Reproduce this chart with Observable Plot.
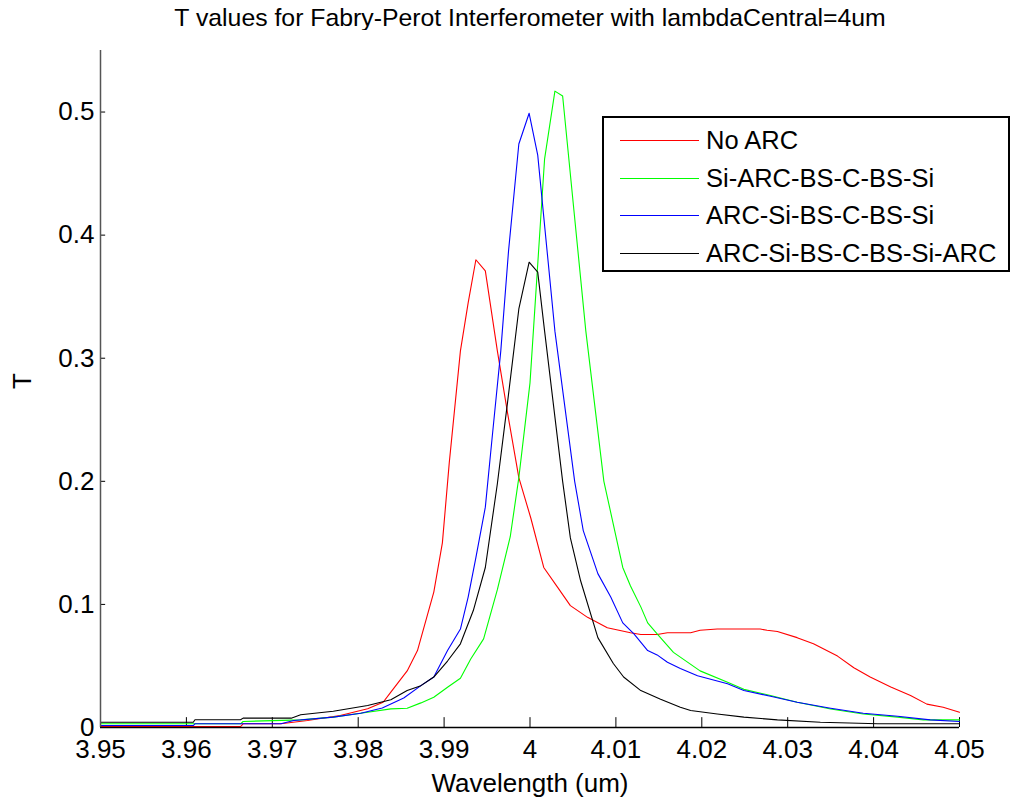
<!DOCTYPE html>
<html>
<head>
<meta charset="utf-8">
<script src="https://cdn.jsdelivr.net/npm/d3@7"></script>
<script src="https://cdn.jsdelivr.net/npm/@observablehq/plot@0.6"></script>
<style>
  html, body { margin: 0; padding: 0; background: #fff; overflow: hidden; }
  #wrap { position: relative; width: 1013px; height: 801px; background: #fff; font-family: "Liberation Sans", Arial, sans-serif; color: #000; }
  #title { position: absolute; top: 4px; left: 30px; width: 1000px; text-align: center; font-size: 24.8px; line-height: 28px; white-space: nowrap; }
  #chart { position: absolute; top: 30px; left: 0; }
  #legend { position: absolute; left: 602px; top: 116px; width: 404px; height: 152px; border: 2px solid #000; background: #fff; }
  .row { position: absolute; left: 0; height: 28px; line-height: 28px; font-size: 25.5px; white-space: nowrap; }
  .swatch { position: absolute; left: 16px; top: 14px; width: 79px; height: 1px; }
  .lab { position: absolute; left: 102px; top: 0; }
</style>
</head>
<body>
<div id="wrap">
  <div id="title">T values for Fabry-Perot Interferometer with lambdaCentral=4um</div>
  <div id="chart"></div>
  <div id="legend"></div>
</div>
<script>
// ---- data ----
const seriesNames = ["No ARC", "Si-ARC-BS-C-BS-Si", "ARC-Si-BS-C-BS-Si", "ARC-Si-BS-C-BS-Si-ARC"];
const seriesColors = ["#ff0000", "#00ff00", "#0000ff", "#000000"];

const xTicks = [3.95, 3.96, 3.97, 3.98, 3.99, 4.00, 4.01, 4.02, 4.03, 4.04, 4.05];
const xTickLabels = ["3.95", "3.96", "3.97", "3.98", "3.99", "4", "4.01", "4.02", "4.03", "4.04", "4.05"];
const yTicks = [0, 0.1, 0.2, 0.3, 0.4, 0.5];
const yTickLabels = ["0", "0.1", "0.2", "0.3", "0.4", "0.5"];
const xTitle = "Wavelength (um)";
const yTitle = "T";

// No ARC (red)
const noArcW = [3.9500, 3.9663, 3.9666, 3.9710, 3.9741, 3.9779, 3.9811, 3.9829, 3.9838, 3.9857, 3.9869, 3.9888, 3.9898, 3.9906, 3.9919, 3.9928, 3.9937, 3.9948, 3.9962, 3.9974, 3.9987, 4.0001, 4.0016, 4.0032, 4.0047, 4.0067, 4.0090, 4.0117, 4.0129, 4.0148, 4.0160, 4.0187, 4.0198, 4.0218, 4.0268, 4.0276, 4.0288, 4.0311, 4.0330, 4.0358, 4.0377, 4.0396, 4.0420, 4.0443, 4.0462, 4.0481, 4.0500];
const noArcT = [0.0008, 0.0008, 0.003, 0.003, 0.0057, 0.0097, 0.0152, 0.0205, 0.0287, 0.046, 0.0625, 0.110, 0.150, 0.215, 0.306, 0.345, 0.380, 0.371, 0.306, 0.255, 0.203, 0.170, 0.130, 0.114, 0.099, 0.0895, 0.081, 0.077, 0.0755, 0.0755, 0.077, 0.077, 0.079, 0.080, 0.080, 0.079, 0.078, 0.073, 0.068, 0.058, 0.0485, 0.041, 0.033, 0.026, 0.019, 0.0165, 0.0124];

// Si-ARC-BS-C-BS-Si (green)
const siArcW = [3.9500, 3.9663, 3.9666, 3.9733, 3.9771, 3.9811, 3.9838, 3.9857, 3.9873, 3.9888, 3.9904, 3.9919, 3.9931, 3.9946, 3.9962, 3.9977, 3.9987, 4.0000, 4.0017, 4.0029, 4.0038, 4.0065, 4.0086, 4.0097, 4.0108, 4.0117, 4.0129, 4.0137, 4.0148, 4.0167, 4.0198, 4.0230, 4.0249, 4.0280, 4.0311, 4.0350, 4.0388, 4.0428, 4.0458, 4.0500];
const siArcT = [0.003, 0.003, 0.0049, 0.0062, 0.0084, 0.0124, 0.0151, 0.0157, 0.020, 0.0246, 0.0327, 0.040, 0.0557, 0.072, 0.112, 0.155, 0.203, 0.280, 0.462, 0.517, 0.513, 0.322, 0.200, 0.165, 0.130, 0.115, 0.098, 0.085, 0.076, 0.061, 0.046, 0.0368, 0.031, 0.026, 0.0205, 0.015, 0.011, 0.0084, 0.0062, 0.0062];

// ARC-Si-BS-C-BS-Si (blue)
const arcSiW = [3.9500, 3.9608, 3.9610, 3.9710, 3.9725, 3.9771, 3.9803, 3.9828, 3.9853, 3.9873, 3.9888, 3.9904, 3.9919, 3.9928, 3.9937, 3.9948, 3.9956, 3.9966, 3.9975, 3.9987, 3.9999, 4.0009, 4.0029, 4.0052, 4.0062, 4.0079, 4.0094, 4.0108, 4.0121, 4.0137, 4.0148, 4.0160, 4.0175, 4.0195, 4.0230, 4.0249, 4.0280, 4.0311, 4.0350, 4.0388, 4.0428, 4.0466, 4.0500];
const arcSiT = [0.0016, 0.0016, 0.003, 0.003, 0.0057, 0.0084, 0.0116, 0.0158, 0.024, 0.034, 0.041, 0.0625, 0.080, 0.106, 0.138, 0.179, 0.236, 0.306, 0.387, 0.474, 0.499, 0.465, 0.322, 0.200, 0.160, 0.125, 0.106, 0.085, 0.076, 0.0625, 0.059, 0.053, 0.048, 0.042, 0.0355, 0.030, 0.0254, 0.0205, 0.0157, 0.0116, 0.0092, 0.0062, 0.0049];

// ARC-Si-BS-C-BS-Si-ARC (black)
const arcBothW = [3.9500, 3.9608, 3.9610, 3.9663, 3.9666, 3.9722, 3.9733, 3.9771, 3.9811, 3.9838, 3.9857, 3.9873, 3.9888, 3.9904, 3.9919, 3.9934, 3.9948, 3.9962, 3.9974, 3.9987, 3.9999, 4.0009, 4.0017, 4.0038, 4.0047, 4.0059, 4.0079, 4.0097, 4.0109, 4.0129, 4.0152, 4.0175, 4.0187, 4.0218, 4.0249, 4.0288, 4.0338, 4.0405, 4.0500];
const arcBothT = [0.0043, 0.0043, 0.0063, 0.0063, 0.0076, 0.0076, 0.0103, 0.0132, 0.0179, 0.0225, 0.030, 0.034, 0.041, 0.054, 0.068, 0.095, 0.130, 0.198, 0.265, 0.340, 0.378, 0.370, 0.322, 0.200, 0.154, 0.119, 0.073, 0.052, 0.041, 0.030, 0.023, 0.0165, 0.0138, 0.011, 0.0084, 0.0062, 0.0043, 0.003, 0.003];

// ---- build table ----
const seriesW = [noArcW, siArcW, arcSiW, arcBothW];
const seriesT = [noArcT, siArcT, arcSiT, arcBothT];
const rows = [];
seriesNames.forEach((name, k) => {
  seriesW[k].forEach((w, i) => rows.push({series: name, w, t: seriesT[k][i]}));
});

const xLabelMap = new Map(xTicks.map((v, i) => [v, xTickLabels[i]]));
const yLabelMap = new Map(yTicks.map((v, i) => [v, yTickLabels[i]]));

const chart = Plot.plot({
  width: 1013,
  height: 771,
  marginLeft: 100,
  marginRight: 54,
  marginTop: 20,
  marginBottom: 74,
  x: {domain: [3.95, 4.05]},
  y: {domain: [0, 0.55]},
  color: {domain: seriesNames, range: seriesColors},
  style: {fontFamily: "'Liberation Sans', Arial, sans-serif", fontSize: "26px", background: "#fff", color: "#000", overflow: "visible"},
  marks: [
    Plot.axisX({ticks: xTicks, tickSize: 0, tickPadding: 12, tickFormat: d => xLabelMap.get(d), fontSize: 26, label: null}),
    Plot.axisY({ticks: yTicks, tickSize: 0, tickPadding: 6, tickFormat: d => yLabelMap.get(d), fontSize: 26, label: null}),
    Plot.ruleX(xTicks, {x: d => d, y1: 0, y2: 0.008, stroke: "#000", strokeWidth: 1}),
    Plot.ruleY(yTicks, {y: d => d, x1: 3.95, x2: 3.9506, stroke: "#000", strokeWidth: 1}),
    Plot.line(rows, {x: "w", y: "t", z: "series", stroke: "series", strokeWidth: 1.1}),
    Plot.ruleX([3.95], {y1: 0, y2: 0.55, stroke: "#555", strokeWidth: 1.5}),
    Plot.ruleY([0], {x1: 3.95, x2: 4.05, stroke: "#000", strokeWidth: 1.5}),
    Plot.text([xTitle], {frameAnchor: "bottom", dy: 64, fontSize: 26, text: d => d}),
    Plot.text([yTitle], {frameAnchor: "left", dx: -78, rotate: -90, fontSize: 26, text: d => d})
  ]
});
document.getElementById("chart").appendChild(chart);

// ---- legend ----
const legend = document.getElementById("legend");
seriesNames.forEach((name, i) => {
  const row = document.createElement("div");
  row.className = "row";
  row.style.top = (8 + i * 37.7) + "px";
  row.style.width = "100%";
  const sw = document.createElement("div");
  sw.className = "swatch";
  sw.style.background = seriesColors[i];
  const lab = document.createElement("span");
  lab.className = "lab";
  lab.textContent = name;
  row.appendChild(sw);
  row.appendChild(lab);
  legend.appendChild(row);
});
</script>
</body>
</html>
